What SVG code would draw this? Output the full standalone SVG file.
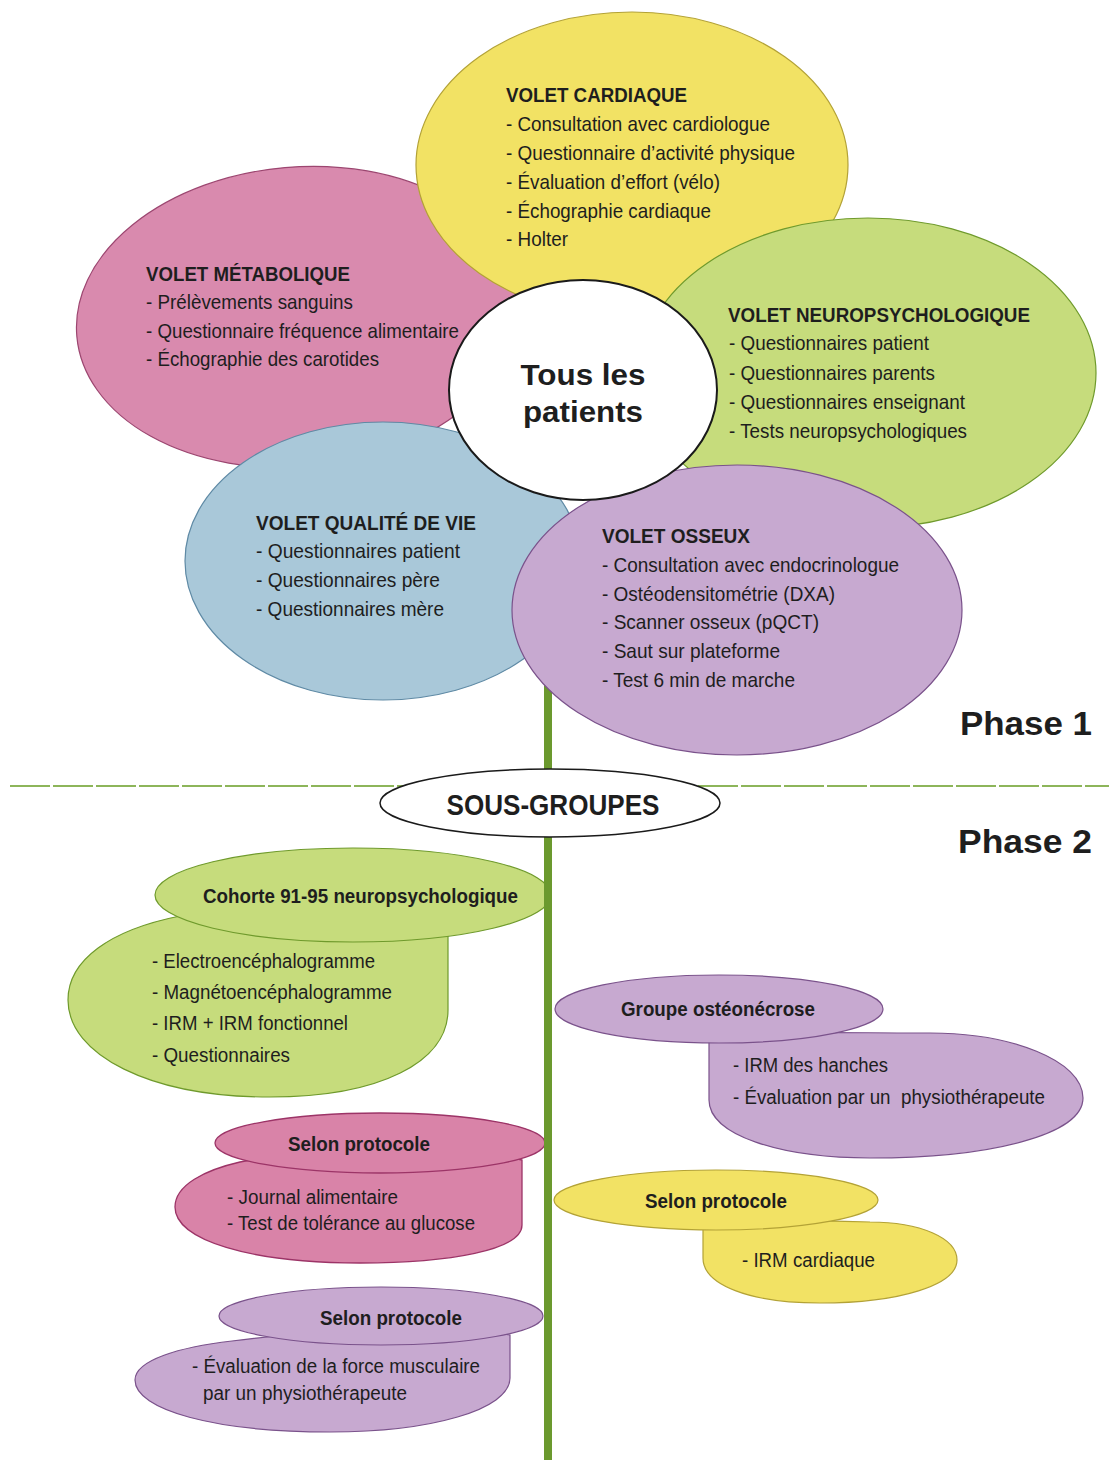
<svg xmlns="http://www.w3.org/2000/svg" width="1109" height="1460" viewBox="0 0 1109 1460">
<style>
text{font-family:"Liberation Sans",Arial,sans-serif;fill:#1e1e1e}
.t{font-size:21px;font-weight:bold}
.b{font-size:21px}
.h{font-size:20px;font-weight:bold}
.s{font-size:20px}
.big{font-size:30px;font-weight:bold}
.ph{font-size:34px;font-weight:bold}
.yel{fill:#f2e264;stroke:#b3a236;stroke-width:1.2}
.pnk{fill:#d98aae;stroke:#9c4670;stroke-width:1.2}
.grn{fill:#c6dc7c;stroke:#6f9a2c;stroke-width:1.2}
.blu{fill:#a9c8d9;stroke:#5f8aa5;stroke-width:1.2}
.pur{fill:#c7a9d0;stroke:#7a528b;stroke-width:1.2}
.pnk2{fill:#d983a8;stroke:#9c3467;stroke-width:1.3}
</style>
<rect width="1109" height="1460" fill="#ffffff"/>
<g id="connectors">
<line x1="548" y1="600" x2="548" y2="1460" stroke="#6b992e" stroke-width="8"/>
<line x1="10" y1="786" x2="1109" y2="786" stroke="#8db55a" stroke-width="2" stroke-dasharray="40 3"/>
</g>
<g id="volet-metabolique">
<ellipse class="pnk" cx="298" cy="317" rx="222" ry="150" transform="rotate(-5 298 317)"/>
<text class="t" x="146" y="281" textLength="204" lengthAdjust="spacingAndGlyphs">VOLET MÉTABOLIQUE</text>
<text class="b" x="146" y="309" textLength="207" lengthAdjust="spacingAndGlyphs">- Prélèvements sanguins</text>
<text class="b" x="146" y="338" textLength="313" lengthAdjust="spacingAndGlyphs">- Questionnaire fréquence alimentaire</text>
<text class="b" x="146" y="366" textLength="233" lengthAdjust="spacingAndGlyphs">- Échographie des carotides</text>
</g>
<g id="volet-cardiaque">
<ellipse class="yel" cx="632" cy="165" rx="216" ry="153"/>
<text class="t" x="506" y="102" textLength="181" lengthAdjust="spacingAndGlyphs">VOLET CARDIAQUE</text>
<text class="b" x="506" y="131" textLength="264" lengthAdjust="spacingAndGlyphs">- Consultation avec cardiologue</text>
<text class="b" x="506" y="160" textLength="289" lengthAdjust="spacingAndGlyphs">- Questionnaire d’activité physique</text>
<text class="b" x="506" y="189" textLength="214" lengthAdjust="spacingAndGlyphs">- Évaluation d’effort (vélo)</text>
<text class="b" x="506" y="218" textLength="205" lengthAdjust="spacingAndGlyphs">- Échographie cardiaque</text>
<text class="b" x="506" y="246" textLength="62" lengthAdjust="spacingAndGlyphs">- Holter</text>
</g>
<g id="volet-neuropsychologique">
<ellipse class="grn" cx="868" cy="373" rx="228" ry="155"/>
<text class="t" x="728" y="322" textLength="302" lengthAdjust="spacingAndGlyphs">VOLET NEUROPSYCHOLOGIQUE</text>
<text class="b" x="729" y="350" textLength="200" lengthAdjust="spacingAndGlyphs">- Questionnaires patient</text>
<text class="b" x="729" y="380" textLength="206" lengthAdjust="spacingAndGlyphs">- Questionnaires parents</text>
<text class="b" x="729" y="409" textLength="236" lengthAdjust="spacingAndGlyphs">- Questionnaires enseignant</text>
<text class="b" x="729" y="438" textLength="238" lengthAdjust="spacingAndGlyphs">- Tests neuropsychologiques</text>
</g>
<g id="volet-qualite-de-vie">
<ellipse class="blu" cx="383" cy="561" rx="198" ry="139"/>
<text class="t" x="256" y="530" textLength="220" lengthAdjust="spacingAndGlyphs">VOLET QUALITÉ DE VIE</text>
<text class="b" x="256" y="558" textLength="204" lengthAdjust="spacingAndGlyphs">- Questionnaires patient</text>
<text class="b" x="256" y="587" textLength="184" lengthAdjust="spacingAndGlyphs">- Questionnaires père</text>
<text class="b" x="256" y="616" textLength="188" lengthAdjust="spacingAndGlyphs">- Questionnaires mère</text>
</g>
<g id="volet-osseux">
<ellipse class="pur" cx="737" cy="610" rx="225" ry="145"/>
<text class="t" x="602" y="543" textLength="148" lengthAdjust="spacingAndGlyphs">VOLET OSSEUX</text>
<text class="b" x="602" y="572" textLength="297" lengthAdjust="spacingAndGlyphs">- Consultation avec endocrinologue</text>
<text class="b" x="602" y="601" textLength="233" lengthAdjust="spacingAndGlyphs">- Ostéodensitométrie (DXA)</text>
<text class="b" x="602" y="629" textLength="217" lengthAdjust="spacingAndGlyphs">- Scanner osseux (pQCT)</text>
<text class="b" x="602" y="658" textLength="178" lengthAdjust="spacingAndGlyphs">- Saut sur plateforme</text>
<text class="b" x="602" y="687" textLength="193" lengthAdjust="spacingAndGlyphs">- Test 6 min de marche</text>
</g>
<g id="tous-les-patients">
<ellipse cx="583" cy="390" rx="134" ry="110" fill="#ffffff" stroke="#1a1a1a" stroke-width="2"/>
<text class="big" x="583" y="385" text-anchor="middle" textLength="125" lengthAdjust="spacingAndGlyphs">Tous les</text>
<text class="big" x="583" y="422" text-anchor="middle" textLength="120" lengthAdjust="spacingAndGlyphs">patients</text>
</g>
<g id="phase1">
<text class="ph" x="960" y="735" textLength="132" lengthAdjust="spacingAndGlyphs">Phase 1</text>
</g>
<g id="sous-groupes">
<ellipse cx="550" cy="803" rx="170" ry="34" fill="#ffffff" stroke="#1a1a1a" stroke-width="1.5"/>
<text class="big" x="553" y="815" text-anchor="middle" font-size="29" textLength="213" lengthAdjust="spacingAndGlyphs">SOUS-GROUPES</text>
</g>
<g id="phase2">
<text class="ph" x="958" y="853" textLength="134" lengthAdjust="spacingAndGlyphs">Phase 2</text>
</g>
<g id="cohorte-neuro">
<path class="grn" d="M 448 925 L 448 1010 C 448 1062 380 1097 270 1097 C 150 1097 68 1055 68 1000 C 68 960 110 930 180 916 C 270 898 400 905 448 925 Z"/>
<ellipse class="grn" cx="353" cy="895" rx="198" ry="47"/>
<text class="h" x="203" y="903" textLength="315" lengthAdjust="spacingAndGlyphs">Cohorte 91-95 neuropsychologique</text>
<text class="s" x="152" y="968" textLength="223" lengthAdjust="spacingAndGlyphs">- Electroencéphalogramme</text>
<text class="s" x="152" y="999" textLength="240" lengthAdjust="spacingAndGlyphs">- Magnétoencéphalogramme</text>
<text class="s" x="152" y="1030" textLength="196" lengthAdjust="spacingAndGlyphs">- IRM + IRM fonctionnel</text>
<text class="s" x="152" y="1062" textLength="138" lengthAdjust="spacingAndGlyphs">- Questionnaires</text>
</g>
<g id="groupe-osteonecrose">
<path class="pur" d="M 709 1035 L 709 1100 C 709 1135 780 1158 870 1158 C 990 1158 1083 1135 1083 1098 C 1083 1060 1010 1033 930 1033 C 850 1033 760 1031 709 1035 Z"/>
<ellipse class="pur" cx="719" cy="1009" rx="164" ry="34"/>
<text class="h" x="621" y="1016" textLength="194" lengthAdjust="spacingAndGlyphs">Groupe ostéonécrose</text>
<text class="s" x="733" y="1072" textLength="155" lengthAdjust="spacingAndGlyphs">- IRM des hanches</text>
<text class="s" x="733" y="1104" xml:space="preserve" textLength="312" lengthAdjust="spacingAndGlyphs">- Évaluation par un  physiothérapeute</text>
</g>
<g id="protocole-metabolique">
<path class="pnk2" d="M 522 1160 L 522 1225 C 522 1250 450 1263 360 1263 C 250 1263 175 1240 175 1207 C 175 1185 205 1170 240 1162 C 330 1145 480 1150 522 1160 Z"/>
<ellipse class="pnk2" cx="380" cy="1143" rx="165" ry="30"/>
<text class="h" x="288" y="1151" textLength="142" lengthAdjust="spacingAndGlyphs">Selon protocole</text>
<text class="s" x="227" y="1204" textLength="171" lengthAdjust="spacingAndGlyphs">- Journal alimentaire</text>
<text class="s" x="227" y="1230" textLength="248" lengthAdjust="spacingAndGlyphs">- Test de tolérance au glucose</text>
</g>
<g id="protocole-cardiaque">
<path class="yel" d="M 703 1222 L 703 1258 C 703 1285 750 1303 820 1303 C 900 1303 957 1285 957 1260 C 957 1238 920 1222 870 1222 C 810 1220 740 1220 703 1222 Z"/>
<ellipse class="yel" cx="716" cy="1200" rx="162" ry="30"/>
<text class="h" x="645" y="1208" textLength="142" lengthAdjust="spacingAndGlyphs">Selon protocole</text>
<text class="s" x="742" y="1267" textLength="133" lengthAdjust="spacingAndGlyphs">- IRM cardiaque</text>
</g>
<g id="protocole-osseux">
<path class="pur" d="M 510 1335 L 510 1378 C 510 1410 430 1432 330 1432 C 215 1432 135 1410 135 1380 C 135 1360 180 1347 232 1341 C 330 1328 470 1328 510 1335 Z"/>
<ellipse class="pur" cx="381" cy="1316" rx="162" ry="29"/>
<text class="h" x="320" y="1325" textLength="142" lengthAdjust="spacingAndGlyphs">Selon protocole</text>
<text class="s" x="192" y="1373" textLength="288" lengthAdjust="spacingAndGlyphs">- Évaluation de la force musculaire</text>
<text class="s" x="203" y="1400" textLength="204" lengthAdjust="spacingAndGlyphs">par un physiothérapeute</text>
</g>
<g id="stem-front">
<line x1="548" y1="840" x2="548" y2="1460" stroke="#6b992e" stroke-width="8"/>
</g>
</svg>
